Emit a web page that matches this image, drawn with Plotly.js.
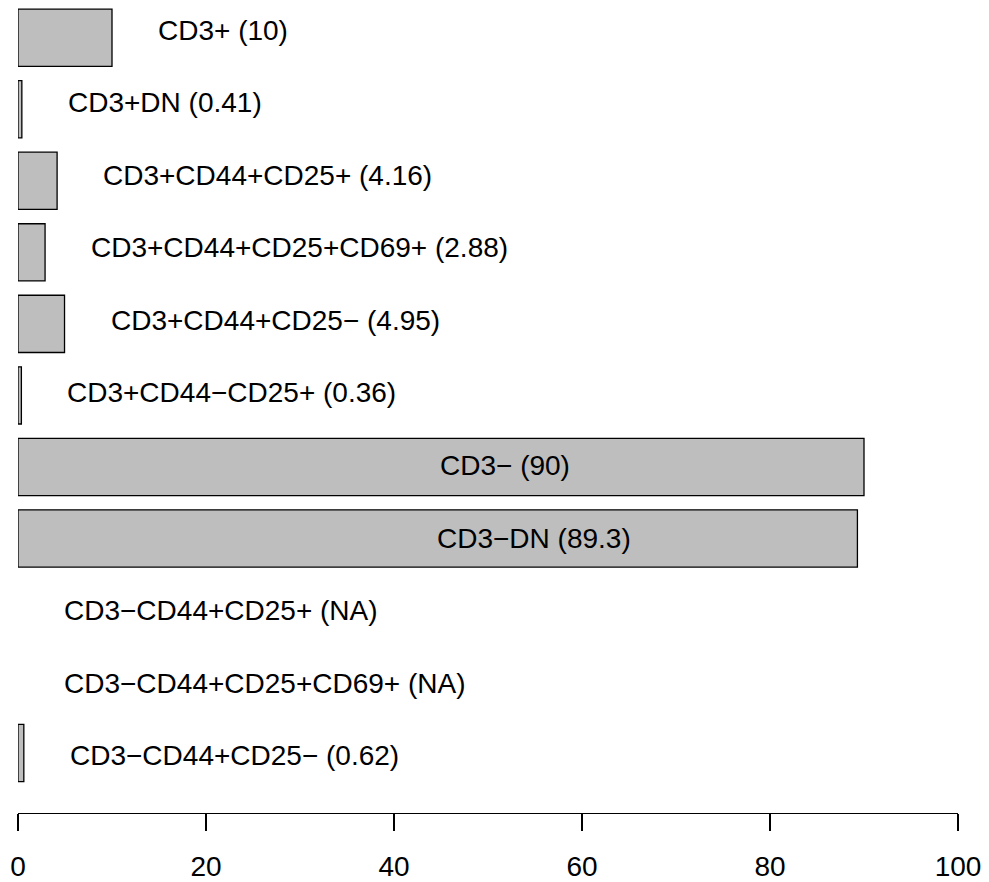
<!DOCTYPE html>
<html>
<head>
<meta charset="utf-8">
<script src="https://cdn.plot.ly/plotly-3.0.1.min.js"></script>
<style>
html,body{margin:0;padding:0;background:#fff;}
#chart{width:989px;height:882px;}
</style>
</head>
<body>
<div id="chart"></div>
<script>
const categories = [
  "CD3+", "CD3+DN", "CD3+CD44+CD25+", "CD3+CD44+CD25+CD69+", "CD3+CD44+CD25−",
  "CD3+CD44−CD25+", "CD3−", "CD3−DN", "CD3−CD44+CD25+", "CD3−CD44+CD25+CD69+", "CD3−CD44+CD25−"
];
const values = [10, 0.41, 4.16, 2.88, 4.95, 0.36, 90, 89.3, null, null, 0.62];
const valueLabels = ["10", "0.41", "4.16", "2.88", "4.95", "0.36", "90", "89.3", "NA", "NA", "0.62"];
const xTicks = [0, 20, 40, 60, 80, 100];

const FONT = "Liberation Sans, Arial, Helvetica, sans-serif";

const trace = {
  type: "bar",
  orientation: "h",
  x: values,
  y: categories,
  marker: {color: "#BEBEBE", line: {color: "#000000", width: 1.3}},
  hoverinfo: "skip"
};

const annotations = categories.map((c, i) => {
  const v = values[i] === null ? 0 : values[i];
  const xpos = v > 50 ? v / 2 : v + 5;
  return {
    x: xpos, y: i * 1.0141 - 0.105, xref: "x", yref: "y",
    text: c + " (" + valueLabels[i] + ")",
    showarrow: false, xanchor: "left", yanchor: "middle", xshift: -3,
    font: {family: FONT, size: 28, color: "#000"}
  };
});

const layout = {
  width: 989, height: 882,
  margin: {l: 18, r: 31, t: 2, b: 69},
  paper_bgcolor: "#fff", plot_bgcolor: "#fff",
  showlegend: false,
  bargap: 0.2,
  xaxis: {
    range: [0, 100], tickvals: xTicks, ticktext: xTicks.map(String),
    showgrid: false, zeroline: false, showline: true, linecolor: "#000", linewidth: 1.3,
    ticks: "outside", ticklen: 17, tickwidth: 1.3, tickcolor: "#000",
    ticklabelstandoff: 11,
    tickfont: {family: FONT, size: 28, color: "#000"}
  },
  yaxis: {
    type: "category", categoryorder: "array", categoryarray: categories,
    range: [10.838, -0.5], visible: false, showgrid: false, zeroline: false
  },
  annotations: annotations
};

Plotly.newPlot("chart", [trace], layout, {staticPlot: true, displayModeBar: false});
</script>
</body>
</html>
